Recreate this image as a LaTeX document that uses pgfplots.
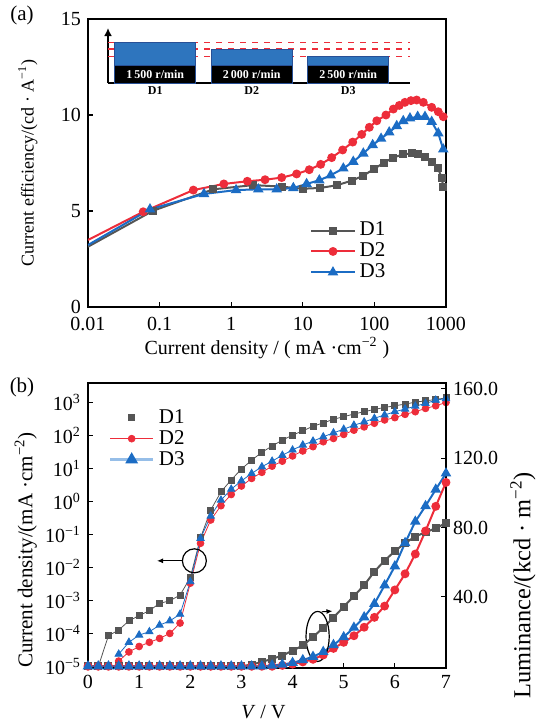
\documentclass[border=0pt]{standalone}
\usepackage{fontspec}
\setmainfont{Liberation Serif}
\usepackage{pgfplots}
\usepackage{pgfplotstable}
\pgfplotsset{compat=1.18}
\usetikzlibrary{arrows.meta}

\definecolor{cgray}{RGB}{85,85,85}
\definecolor{cred}{RGB}{237,45,58}
\definecolor{cblue}{RGB}{27,108,196}
\definecolor{cbluelight}{RGB}{150,190,232}
\definecolor{cbar}{RGB}{46,117,190}
\definecolor{cbaredge}{RGB}{40,80,150}

% (b): current density J (mA/cm2) and luminance L (kcd/m2) against V
\pgfplotstableread{
V   J1      J2      J3      L1    L2    L3
0.0 nan     nan     nan     0     0     0
0.2 1.0e-5  nan     nan     0     0     0
0.4 8.7e-5  nan     nan     0     0     0
0.6 1.29e-4 1.48e-5 2.4e-5  0     0     0
0.8 2.45e-4 2.8e-5  5.5e-5  0     0     0
1.0 3.55e-4 4.1e-5  9.1e-5  0     0     0
1.2 5.0e-4  5.5e-5  1.15e-4 0     0     0
1.4 8.3e-4  7.2e-5  1.82e-4 0     0     0
1.6 1.0e-3  1.02e-4 2.45e-4 0     0     0
1.8 1.48e-3 2.1e-4  3.9e-4  0     0     0
2.0 5.0e-3  3.4e-3  3.8e-3  0     0     0
2.2 8.1e-2  5.5e-2  7.8e-2  0     0     0
2.4 0.56    0.28    0.37    0     0     0
2.6 2.0     0.76    1.12    0     0     0
2.8 4.6     1.66    2.4     0     0     0
3.0 9.8     3.0     4.3     0     0     0
3.2 18.2    5.1     7.2     1.0   0     0
3.4 31.6    7.8     11.5    2.5   0     0
3.6 49      12.0    17.0    4.3   0     0.5
3.8 74      17.0    25.7    6.2   0.5   1.0
4.0 105     24.5    37.2    9.0   1.2   2.0
4.2 141     34.7    52.5    12.0  2.5   3.6
4.4 195     46.8    69      16.9  4.0   5.5
4.6 245     66      93      22.2  6.5   8.3
4.8 316     83      123     28.1  10.3  12.3
5.0 380     110     158     34.3  13.8  16.8
5.2 457     148     209     40.5  17.6  22.3
5.4 537     186     263     46.7  22.5  28.3
5.6 631     240     339     54.6  28.2  36.0
5.8 724     302     427     60.9  34.7  46.7
6.0 813     355     537     66.4  44.0  57.7
6.2 912     447     646     71.0  53.3  71.1
6.4 1047    537     794     74.8  64.7  83.4
6.6 1148    676     955     77.3  78.0  92.4
6.8 1259    813     1202    79.5  92.2  101.9
7.0 1413    1023    1349    82.7  106.0 111.2
}\datab

\pgfplotsset{
  myax/.style={
    scale only axis,
    tick align=inside,
    major tick length=2.5pt,
    minor tick length=0pt,
    axis line style={line width=0.8pt},
    every tick/.style={line width=0.6pt, black},
    tick label style={font=\fontsize{10}{12}\selectfont},
    label style={font=\fontsize{9.5}{11}\selectfont},
    /pgf/number format/assume math mode=true,
    legend style={draw=none, fill=none, font=\fontsize{10.5}{12}\selectfont,
      row sep=-2pt, inner sep=0pt},
    legend cell align=left,
    legend image code/.code={\draw[mark repeat=2,mark phase=2,##1]
      plot coordinates {(0cm,0cm)(0.38cm,0cm)(0.76cm,0cm)};},
  },
  s1/.style={cgray, line width=1pt, mark=square*, mark size=1.5pt, mark options={solid}},
  s2/.style={cred, line width=1pt, mark=*, mark size=1.7pt, mark options={solid}},
  s3/.style={cblue, line width=1pt, mark=triangle*, mark size=2.1pt, mark options={solid}},
}

\begin{document}
\begin{tikzpicture}

% ---------------- (a) ----------------
\begin{axis}[myax,
  at={(44pt,-153.5pt)}, anchor=south west, width=179pt, height=144pt,
  xmode=log, xmin=0.01, xmax=1000, ymin=0, ymax=15,
  xtick={0.01,0.1,1,10,100,1000}, xticklabels={0.01,0.1,1,10,100,1000},
  xticklabel style={yshift=-1.5pt},
  ytick={0,5,10,15},
  xtick pos=bottom, ytick pos=left,
  xlabel={Current density / ( mA ·cm\textsuperscript{−2} )},
  ylabel={Current efficiency/(cd · A\textsuperscript{−1})},
  every axis x label/.style={at={(axis description cs:0.5,-0.142)}, anchor=center},
  every axis y label/.style={at={(axis description cs:-0.168,0.5)}, rotate=90, anchor=center,
    font=\fontsize{9}{11}\selectfont},
  legend style={at={(0.62,0.31)}, anchor=north west},
]
\addplot[s1, mark phase=2, mark repeat=1] coordinates {
(0.01,3.14) (0.0817,5.02) (0.562,6.13) (2.04,6.35) (5.07,6.27) (9.95,6.16)
(17.4,6.20) (29.8,6.34) (48.2,6.58) (70,6.84) (98.7,7.19) (136,7.52) (184,7.78)
(248,7.95) (332,8.0) (410,7.97) (509,7.83) (631,7.57) (780,7.22) (871,6.70) (916,6.27)};
\addlegendentry{D1}
\addplot[s2, mark phase=2, mark repeat=1] coordinates {
(0.01,3.49) (0.059,4.96) (0.296,6.09) (0.79,6.41) (1.68,6.55) (2.97,6.63) (5.07,6.74)
(8.2,6.93) (12.3,7.15) (17.8,7.43) (25.3,7.78) (36,8.18) (49.8,8.59) (66.5,8.99)
(85,9.36) (108,9.70) (145,10.0) (184,10.31) (223,10.5) (267,10.66) (324,10.75)
(389,10.78) (482,10.66) (631,10.4) (780,10.17) (916,9.91)};
\addlegendentry{D2}
\addplot[s3, mark phase=2, mark repeat=1] coordinates {
(0.01,3.23) (0.0734,5.09) (0.417,5.89) (1.17,6.09) (2.39,6.13) (4.32,6.13) (7.38,6.20)
(11.3,6.41) (17.0,6.6) (24.5,6.86) (36.8,7.22) (50.7,7.57) (70,8.0) (94.6,8.44)
(124,8.77) (161,9.1) (205,9.43) (253,9.69) (314,9.83) (402,9.91) (509,9.91)
(631,9.65) (780,9.05) (916,8.21)};
\addlegendentry{D3}
\end{axis}

% inset of (a): spin speeds
\begin{axis}[
  at={(54pt,-41.5pt)}, anchor=south west, scale only axis, width=151pt, height=27.5pt,
  xmin=-0.49, xmax=2.64, ymin=0, ymax=55,
  axis x line*=bottom, axis y line=left,
  axis line style={line width=1pt},
  y axis line style={-{Latex[length=4pt,width=4pt]}},
  ytick=\empty, xtick={0,1,2}, xticklabels={D1,D2,D3}, major tick length=0pt,
  xticklabel style={font=\fontsize{6}{7}\selectfont\bfseries, inner sep=1.5pt},
  clip=false,
]
\addplot[cred, dashed, line width=0.6pt] coordinates {(-0.49,40.7) (2.64,40.7)};
\addplot[cred, dashed, line width=0.6pt] coordinates {(-0.49,34) (2.64,34)};
\addplot[cred, dashed, line width=0.6pt] coordinates {(-0.49,26.3) (2.64,26.3)};
\addplot[ybar, bar width=0.84, bar shift=0pt, fill=cbar, draw=cbaredge, line width=0.5pt]
  coordinates {(0,40.7) (1,34) (2,26.3)};
\addplot[ybar, bar width=0.84, bar shift=0pt, fill=black, draw=cbaredge, line width=0.5pt]
  coordinates {(0,17.5) (1,17.5) (2,17.5)};
\node[white, font=\fontsize{6}{7}\selectfont\bfseries] at (axis cs:0,8.8) {1\,500 r/min};
\node[white, font=\fontsize{6}{7}\selectfont\bfseries] at (axis cs:1,8.8) {2\,000 r/min};
\node[white, font=\fontsize{6}{7}\selectfont\bfseries] at (axis cs:2,8.8) {2\,500 r/min};
\end{axis}

% ---------------- (b) ----------------
\begin{axis}[myax,
  at={(44pt,-334pt)}, anchor=south west, width=179pt, height=142.5pt,
  xmin=0, xmax=7, ymode=log, ymin=9.12e-6, ymax=3981,
  xtick={0,1,...,7},
  ytick={1e-5,1e-4,1e-3,1e-2,1e-1,1,10,100,1000},
  yticklabels={10\textsuperscript{−5},10\textsuperscript{−4},10\textsuperscript{−3},
    10\textsuperscript{−2},10\textsuperscript{−1},10\textsuperscript{0},
    10\textsuperscript{1},10\textsuperscript{2},10\textsuperscript{3}},
  xtick pos=bottom, ytick pos=left,
  xlabel={\textit{V} / V},
  ylabel={Current density/(mA ·cm\textsuperscript{−2})},
  every axis x label/.style={at={(axis description cs:0.49,-0.154)}, anchor=center},
  every axis y label/.style={at={(axis description cs:-0.174,0.414)}, rotate=90, anchor=center,
    font=\fontsize{10.5}{12}\selectfont},
  legend style={at={(0.056,0.923)}, anchor=north west},
]
\addlegendimage{only marks, mark=square*, cgray, mark size=1.5pt}
\addlegendentry{D1}
\addlegendimage{cred, line width=0.4pt, mark=*, mark size=1.7pt}
\addlegendentry{D2}
\addlegendimage{cbluelight, line width=1.6pt, mark=triangle*, mark size=2.1pt,
  mark options={fill=cblue, draw=cblue}}
\addlegendentry{D3}
\addplot[s1, line width=0.4pt, forget plot] table[x=V, y=J1] {\datab};
\addplot[s2, line width=0.4pt, forget plot] table[x=V, y=J2] {\datab};
\addplot[s3, line width=0.4pt, forget plot] table[x=V, y=J3] {\datab};
\draw[line width=0.6pt] (axis cs:2.08,0.0162) circle[radius=6pt];
\draw[line width=0.5pt, -{Latex[length=3pt,width=2.5pt]}]
  (axis cs:1.86,0.0162) -- (axis cs:1.35,0.0162);
\end{axis}

\begin{axis}[myax,
  at={(44pt,-334pt)}, anchor=south west, width=179pt, height=142.5pt,
  xmin=0, xmax=7, ymin=-1, ymax=163.3,
  axis y line*=right, axis x line=none,
  ytick={40,80,120,160},
  yticklabel style={/pgf/number format/.cd, fixed, fixed zerofill, precision=1},
  ylabel={Luminance/(kcd · m\textsuperscript{−2})},
  every axis y label/.style={at={(axis description cs:1.215,0.29)}, rotate=90, anchor=center,
    font=\fontsize{12.2}{14}\selectfont},
]
\addplot[s1] table[x=V, y=L1] {\datab};
\addplot[s2] table[x=V, y=L2] {\datab};
\addplot[s3] table[x=V, y=L3] {\datab};
\draw[line width=0.6pt] (axis cs:4.49,17.2) ellipse[x radius=5.8pt, y radius=12.5pt];
\draw[line width=0.5pt, -{Latex[length=3pt,width=2.5pt]}]
  (axis cs:4.57,31.4) -- (axis cs:4.78,31.8);
\draw[line width=1.2pt] (axis cs:0,-1) -- (axis cs:4.8,-1);
\end{axis}

\node[font=\fontsize{10.5}{12}\selectfont] at (11pt,-7.5pt) {(a)};
\node[font=\fontsize{10.5}{12}\selectfont] at (11pt,-193.5pt) {(b)};

\pgfresetboundingbox
\path[use as bounding box] (0,0) rectangle (268.5pt,-362.5pt);
\end{tikzpicture}
\end{document}
